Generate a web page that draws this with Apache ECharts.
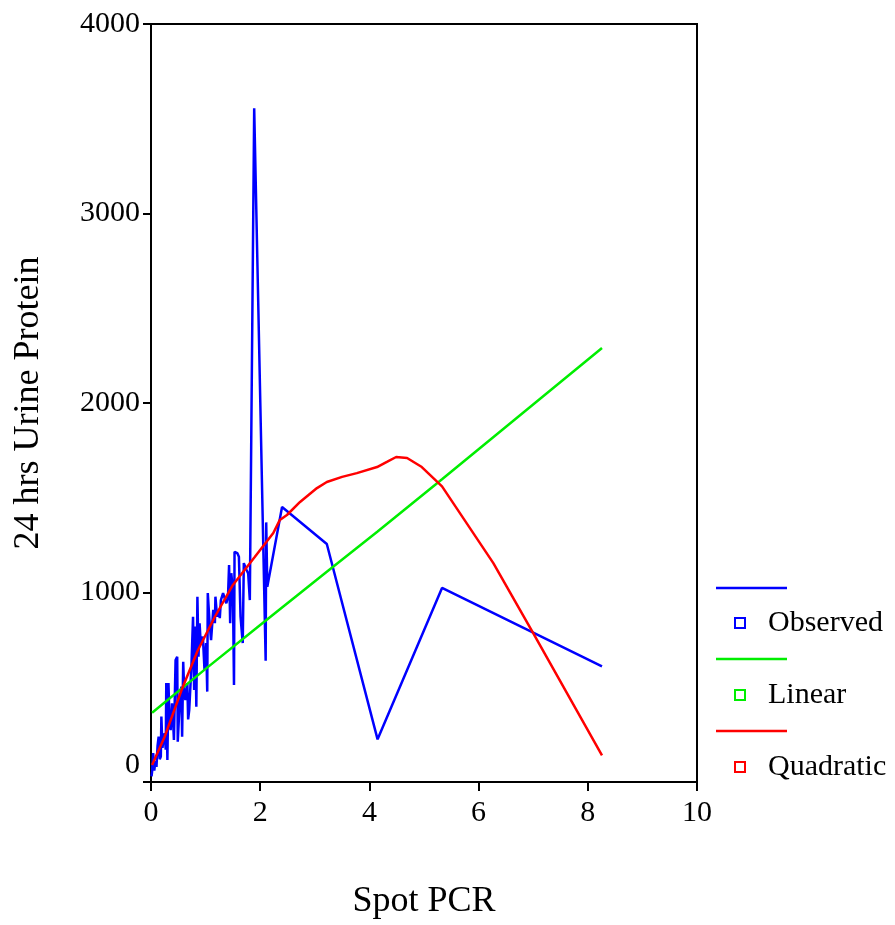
<!DOCTYPE html>
<html>
<head>
<meta charset="utf-8">
<script src="https://cdn.jsdelivr.net/npm/echarts@6/dist/echarts.min.js"></script>
<style>
  html, body { margin: 0; padding: 0; background: #fff; }
  #chart { width: 895px; height: 925px; }
</style>
</head>
<body>
<div id="chart"></div>
<script>
// observed: spot PCR vs 24 hrs urine protein, in x order
const obsX = [
  0.01, 0.02, 0.04, 0.06, 0.08, 0.10, 0.12, 0.14, 0.16, 0.18,
  0.19, 0.21, 0.22, 0.25, 0.27, 0.28, 0.30, 0.32, 0.34, 0.36,
  0.385, 0.40, 0.42, 0.45, 0.48, 0.49, 0.51, 0.525, 0.556, 0.57,
  0.59, 0.61, 0.63, 0.665, 0.68, 0.70, 0.74, 0.77, 0.79, 0.81,
  0.83, 0.85, 0.87, 0.89, 0.91, 0.95, 0.98, 1.01, 1.03, 1.04,
  1.07, 1.10, 1.14, 1.17, 1.18, 1.21, 1.23, 1.26, 1.28, 1.32,
  1.35, 1.38, 1.41, 1.43, 1.45, 1.47, 1.50, 1.52, 1.53, 1.58,
  1.61, 1.64, 1.68, 1.70, 1.75, 1.78, 1.81, 1.89, 2.10, 2.11,
  2.13, 2.40, 3.22, 4.15, 5.33, 8.26
];
const obsY = [
  30, 55, 153, 60, 110, 80, 190, 240, 120, 134,
  345, 180, 206, 258, 170, 522, 116, 522, 300, 274,
  415, 350, 222, 643, 661, 213, 330, 417, 503, 239,
  635, 460, 433, 522, 330, 380, 608, 872, 485, 820,
  397, 978, 661, 838, 733, 767, 591, 733, 477, 997,
  855, 749, 908, 838, 978, 872, 908, 865, 960, 997,
  987, 943, 978, 1145, 838, 1102, 1013, 512, 1215, 1208,
  1189, 872, 733, 1155, 1119, 1101, 960, 3555, 640, 1370,
  1030, 1451, 1256, 225, 1024, 610
];

// linear fit
const linX = [0.02, 1.0, 2.0, 3.22, 4.15, 5.33, 8.26];
const linY = [365, 597, 829, 1110, 1322, 1598, 2290];

// quadratic fit
const quadX = [0.02, 0.25, 0.56, 0.85, 1.17, 1.5, 1.9, 2.24, 2.36, 2.49, 2.73, 3.04,
  3.22, 3.5, 3.77, 4.14, 4.32, 4.49, 4.69, 4.96, 5.33, 6.27, 7.0, 8.26];
const quadY = [90, 239, 485, 690, 872, 1040, 1187, 1314, 1383, 1409, 1478, 1551,
  1583, 1610, 1630, 1662, 1689, 1715, 1710, 1662, 1560, 1155, 786, 140];

const names = ["Observed", "Linear", "Quadratic"];
const colors = ["#0000ff", "#00ee00", "#ff0000"];

const font = "Liberation Serif";
const zip = (xs, ys) => xs.map((x, i) => [x, ys[i]]);

const chart = echarts.init(document.getElementById("chart"));

const lineSeries = (name, data, color) => ({
  name,
  type: "line",
  data,
  showSymbol: false,
  symbol: "none",
  lineStyle: { color, width: 2.5 },
  itemStyle: { color },
  animation: false,
});

// the coloured strokes drawn above each legend entry
const legendStrokes = [588, 659, 731].map((y, i) => ({
  type: "line",
  shape: { x1: 716, y1: y, x2: 787, y2: y },
  style: { stroke: colors[i], lineWidth: 2.5 },
}));

chart.setOption({
  backgroundColor: "#fff",
  animation: false,
  grid: {
    left: 151,
    right: 198,
    top: 24,
    bottom: 143,
    show: true,
    borderColor: "#000",
    borderWidth: 2,
  },
  xAxis: {
    type: "value",
    min: 0,
    max: 10,
    interval: 2,
    name: "Spot PCR",
    nameLocation: "middle",
    nameGap: 102,
    nameTextStyle: { fontFamily: font, fontSize: 36, color: "#000" },
    axisLine: { show: true, lineStyle: { color: "#000", width: 2 } },
    axisTick: { show: true, length: 9, lineStyle: { color: "#000", width: 2 } },
    axisLabel: { fontFamily: font, fontSize: 30, color: "#000", margin: 16 },
    splitLine: { show: false },
  },
  yAxis: {
    type: "value",
    min: 0,
    max: 4000,
    interval: 1000,
    name: "24 hrs Urine Protein",
    nameLocation: "middle",
    nameGap: 104,
    nameTextStyle: { fontFamily: font, fontSize: 36, color: "#000" },
    axisLine: { show: true, lineStyle: { color: "#000", width: 2 } },
    axisTick: { show: true, length: 8, lineStyle: { color: "#000", width: 2 } },
    axisLabel: {
      fontFamily: font,
      fontSize: 30,
      color: "#000",
      margin: 11,
      formatter: v => (v === 0 ? "{zero|0}" : String(v)),
      rich: {
        zero: { fontFamily: font, fontSize: 30, color: "#000", padding: [0, 0, 34, 0] },
      },
    },
    splitLine: { show: false },
  },
  legend: {
    orient: "vertical",
    left: 729,
    top: 603,
    itemWidth: 10,
    itemHeight: 10,
    itemGap: 42,
    icon: "rect",
    data: names.map((n, i) => ({
      name: n,
      itemStyle: { color: "#fff", borderColor: colors[i], borderWidth: 2 },
    })),
    textStyle: {
      fontFamily: font,
      fontSize: 30,
      color: "#000",
      lineHeight: 30,
      padding: [0, 0, 0, 18],
    },
  },
  graphic: legendStrokes,
  series: [
    lineSeries(names[0], zip(obsX, obsY), colors[0]),
    lineSeries(names[1], zip(linX, linY), colors[1]),
    lineSeries(names[2], zip(quadX, quadY), colors[2]),
  ],
});
</script>
</body>
</html>
